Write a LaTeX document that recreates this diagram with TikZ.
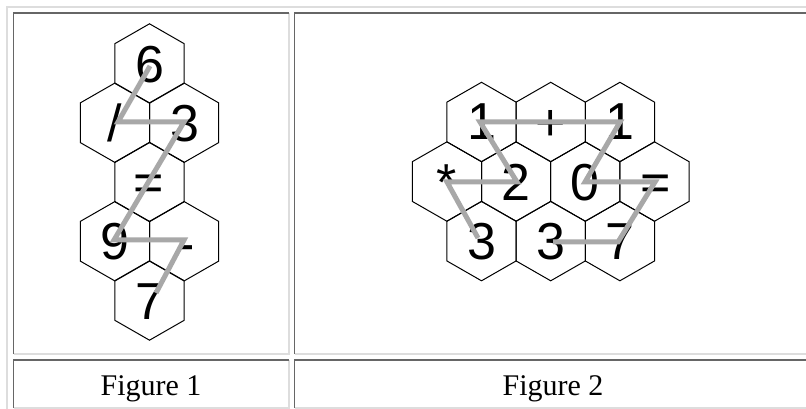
\documentclass[tikz,border=0pt]{standalone}
\usepackage{fontspec}
\setmainfont{Liberation Serif}
\newfontfamily\hexfont{Liberation Sans}
\definecolor{darkb}{HTML}{666666}
\definecolor{lightb}{HTML}{DDDDDD}
\definecolor{pathgray}{HTML}{A8A8A8}
\begin{document}
\begin{tikzpicture}[x=0.75pt,y=-0.75pt,
  hexline/.style={draw=black,line width=0.75pt},
  glyph/.style={font=\hexfont\fontsize{39}{42}\selectfont,inner sep=0pt,
    text height=27.9pt,text depth=0pt,anchor=center},
  trail/.style={draw=pathgray,line width=3.75pt},
  caption/.style={font=\fontsize{22.5}{26}\selectfont,inner sep=0pt,anchor=base},
  darkedge/.style={draw=darkb,line width=0.9pt},
  lightedge/.style={draw=lightb,line width=0.9pt},
  hexcell/.pic={\draw[hexline] (0,-39.7) -- (34.6,-19.85) -- (34.6,19.85) -- (0,39.7)
      -- (-34.6,19.85) -- (-34.6,-19.85) -- cycle;}]
\fill[white] (0,0) rectangle (806,409);
\useasboundingbox (0,0) rectangle (806,409);
% table borders
\draw[lightedge,line width=1.3pt] (7,409) -- (7,7) -- (806,7);
\draw[lightedge] (289,13) -- (289,354) -- (13.5,354);
\draw[darkedge] (13.5,354) -- (13.5,13) -- (289,13);
\draw[lightedge] (294.5,354) -- (806,354);
\draw[darkedge] (294.5,354) -- (294.5,13) -- (806,13);
\draw[lightedge] (289,360) -- (289,408) -- (13.5,408);
\draw[darkedge] (13.5,408) -- (13.5,360) -- (289,360);
\draw[lightedge] (294.5,408) -- (806,408);
\draw[darkedge] (294.5,408) -- (294.5,360) -- (806,360);
% Figure 1 hexes
\foreach \p in {(149.5,63.5),(114.9,122.75),(184.1,122.75),(149.5,182),
                (114.9,241.25),(184.1,241.25),(149.5,300.5)}
  \pic at \p {hexcell};
% Figure 2 hexes
\foreach \p in {(481.5,122),(550.7,122),(619.9,122),
                (446.9,181.55),(516.1,181.55),(585.3,181.55),(654.5,181.55),
                (481.5,241.1),(550.7,241.1),(619.9,241.1)}
  \pic at \p {hexcell};
% Figure 1 glyphs
\node[glyph] (a6) at (149.5,64) {6};
\node[glyph] (aslash) at (114.9,122.75) {/};
\node[glyph] (a3) at (185,122.75) {3};
\node[glyph] (aeq) at (148.5,182) {=};
\node[glyph] (a9) at (114.9,241.25) {9};
\node[glyph] (aminus) at (186,243) {-};
\node[glyph] (a7) at (149.5,300.5) {7};
% Figure 2 glyphs
\node[glyph] (b1a) at (481.5,121) {1};
\node[glyph] (bplus) at (550.7,122) {+};
\node[glyph] (b1b) at (619.9,121) {1};
\node[glyph] (bstar) at (446.9,181.55) {*};
\node[glyph] (b2) at (516.1,181.55) {2};
\node[glyph] (b0) at (585.3,181.55) {0};
\node[glyph] (beq) at (656,181.55) {=};
\node[glyph] (b3a) at (481.5,241.1) {3};
\node[glyph] (b3b) at (550.7,241.1) {3};
\node[glyph] (b7) at (619.9,241.1) {7};
% trail points
\coordinate (p6) at (150,66);
\coordinate (pslash) at (118,122);
\coordinate (p3) at (184,122);
\coordinate (p9) at (114,240);
\coordinate (pminus) at (184,240);
\coordinate (p7) at (156,293);
\coordinate (q3a) at (478,238);
\coordinate (qstar) at (447,182);
\coordinate (q2) at (517,182);
\coordinate (q1a) at (480,122);
\coordinate (q1b) at (620,122);
\coordinate (q0) at (585,182);
\coordinate (qeq) at (655,182);
\coordinate (q7) at (618,242);
\coordinate (q3b) at (553,242);
\draw[trail] (p6) -- (pslash) -- (p3) -- (p9) -- (pminus) -- (p7);
\draw[trail] (q3a) -- (qstar) -- (q2) -- (q1a) -- (q1b) -- (q0) -- (qeq) -- (q7) -- (q3b);
% captions
\node[caption] (cap1) at (151,395) {Figure 1};
\node[caption] (cap2) at (553,395) {Figure 2};
\end{tikzpicture}
\end{document}
